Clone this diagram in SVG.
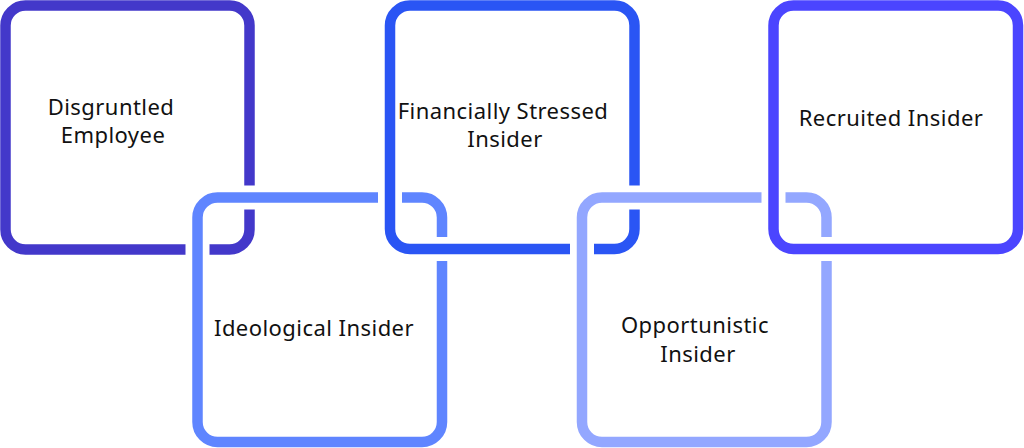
<svg xmlns="http://www.w3.org/2000/svg" width="1024" height="448" viewBox="0 0 1024 448">
<style>
.halo{fill:none;stroke:#ffffff;stroke-width:24}
.box{fill:none;stroke-width:10.5}
.lbl{font-family:"Noto Sans","Open Sans","DejaVu Sans",sans-serif;font-size:22px;letter-spacing:0.45px;fill:#111111;text-anchor:middle}
</style>
<rect width="1024" height="448" fill="#ffffff"/>
<g id="node-disgruntled">
<rect class="box" x="5.5" y="5.5" width="244" height="244" rx="20" stroke="#4338CA"/>
<text class="lbl" x="111" y="115">Disgruntled</text>
<text class="lbl" x="113" y="143">Employee</text>
</g>
<g id="node-ideological">
<rect class="halo" x="197.5" y="197.5" width="244.5" height="244.5" rx="20"/>
<rect class="box" x="197.5" y="197.5" width="244.5" height="244.5" rx="20" stroke="#5F85FF"/>
<text class="lbl" x="314" y="336">Ideological Insider</text>
</g>
<g id="node-financial">
<rect class="halo" x="390" y="5.5" width="244.5" height="243.5" rx="20"/>
<rect class="box" x="390" y="5.5" width="244.5" height="243.5" rx="20" stroke="#2A55F4"/>
<text class="lbl" x="503" y="119">Financially Stressed</text>
<text class="lbl" x="505" y="147">Insider</text>
</g>
<g id="node-opportunistic">
<rect class="halo" x="582" y="197.5" width="244.5" height="244.5" rx="20"/>
<rect class="box" x="582" y="197.5" width="244.5" height="244.5" rx="20" stroke="#93A7FF"/>
<text class="lbl" x="695" y="333">Opportunistic</text>
<text class="lbl" x="698" y="362">Insider</text>
</g>
<g id="node-recruited">
<rect class="halo" x="773.5" y="5.5" width="244.5" height="243.5" rx="20"/>
<rect class="box" x="773.5" y="5.5" width="244.5" height="243.5" rx="20" stroke="#4B45FF"/>
<text class="lbl" x="891" y="126">Recruited Insider</text>
</g>
<g id="connectors"></g>
</svg>
